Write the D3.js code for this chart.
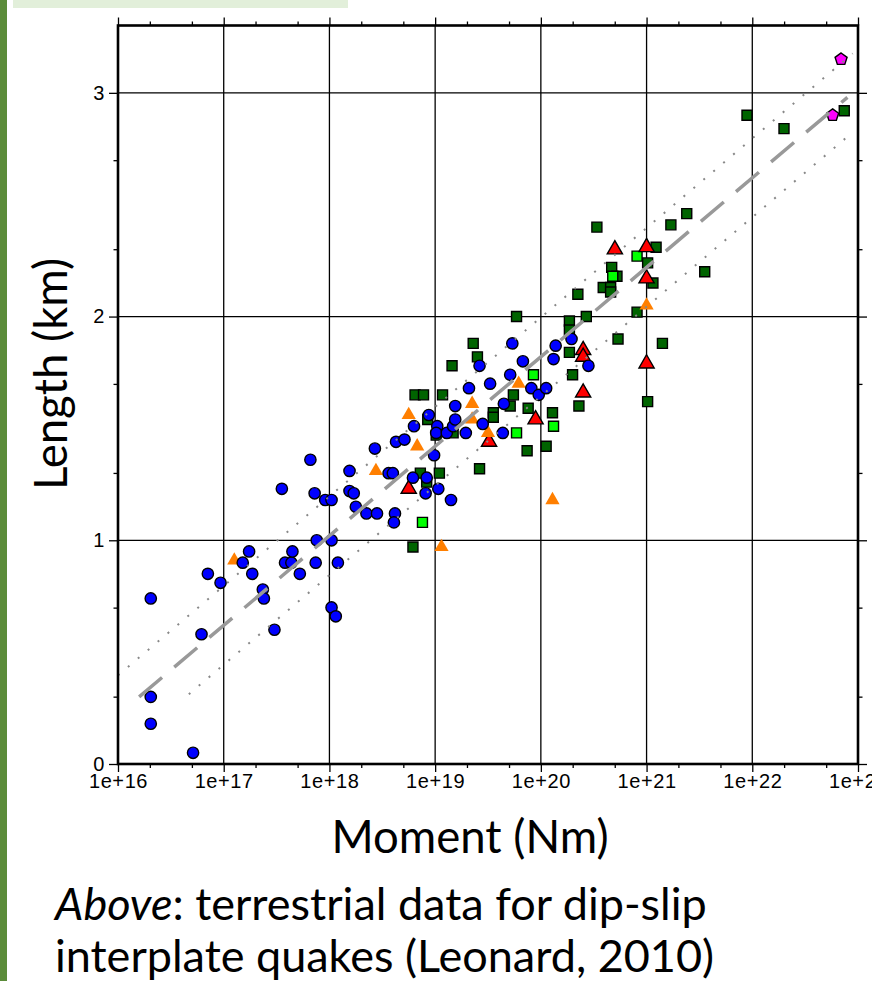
<!DOCTYPE html>
<html>
<head>
<meta charset="utf-8">
<script src="https://cdn.jsdelivr.net/npm/d3@7/dist/d3.min.js"></script>
<style>
  body { margin: 0; background: #fff; }
  .tick text { font-family: "Liberation Sans", Arial, sans-serif; font-size: 20px; letter-spacing: 0.6px; fill: #000; }
  .tick line { stroke: #000; stroke-width: 1.3; }
  .title { font-family: Lato, "Open Sans", sans-serif; fill: #000; }
</style>
</head>
<body>
<svg id="chart" width="872" height="981"></svg>
<script>
// every point is [log10 moment (Nm), log10 length (km)]
var blueCircles = [
  [16.31,0.74],[16.31,0.30],[16.31,0.18],[16.71,0.05],[16.79,0.58],[16.85,0.85],[16.97,0.81],
  [17.18,0.90],[17.24,0.95],[17.27,0.85],[17.37,0.78],[17.38,0.74],[17.48,0.60],[17.55,1.23],
  [17.58,0.90],[17.64,0.90],[17.65,0.95],[17.72,0.85],[17.82,1.36],[17.86,1.21],[17.87,0.90],
  [17.88,1.00],[17.96,1.18],[18.02,1.18],[18.02,1.00],[18.02,0.70],[18.06,0.66],[18.08,0.90],
  [18.19,1.22],[18.23,1.21],[18.19,1.31],[18.25,1.15],[18.35,1.12],[18.45,1.12],[18.43,1.41],
  [18.56,1.30],[18.60,1.30],[18.62,1.12],[18.61,1.08],[18.63,1.44],[18.71,1.45],[18.79,1.28],
  [18.80,1.51],[18.92,1.28],[18.91,1.21],[18.94,1.56],[18.99,1.38],[19.02,1.51],[19.01,1.48],
  [19.03,1.23],[19.11,1.48],[19.15,1.18],[19.17,1.51],[19.19,1.54],[19.19,1.60],[19.29,1.48],
  [19.32,1.68],[19.42,1.78],[19.45,1.52],[19.52,1.70],[19.64,1.48],[19.65,1.61],[19.71,1.74],
  [19.73,1.88],[19.83,1.80],[19.91,1.68],[19.98,1.65],[20.05,1.68],[20.12,1.81],[20.14,1.87],
  [20.29,1.90],[20.45,1.78]
];
var darkGreenSquares = [
  [18.79,0.97],[18.81,1.65],[18.89,1.65],[19.07,1.65],[18.93,1.54],[19.01,1.47],[19.17,1.48],
  [18.86,1.30],[19.04,1.30],[18.92,1.26],[19.16,1.78],[19.36,1.88],[19.40,1.82],[19.42,1.32],
  [19.55,1.57],[19.55,1.55],[19.71,1.60],[19.74,1.65],[19.77,2.00],[19.87,1.40],[19.88,1.59],
  [20.05,1.42],[20.11,1.57],[20.27,1.98],[20.27,1.94],[20.27,1.84],[20.30,1.74],[20.35,2.10],
  [20.36,1.60],[20.43,2.00],[20.53,2.40],[20.59,2.13],[20.66,2.13],[20.67,2.22],[20.66,2.11],
  [20.72,2.18],[20.73,1.90],[20.91,2.02],[21.01,2.24],[21.01,1.62],[21.06,2.15],[21.09,2.31],
  [21.15,1.88],[21.23,2.41],[21.38,2.46],[21.55,2.20],[21.95,2.90],[22.30,2.84],[22.87,2.92]
];
var lightGreenSquares = [
  [18.88,1.08],[19.77,1.48],[19.93,1.74],[20.12,1.51],[20.68,2.18],[20.91,2.27]
];
var redTriangles = [
  [18.75,1.23],[19.51,1.44],[19.95,1.54],[20.40,1.85],[20.40,1.82],[20.40,1.66],
  [20.70,2.30],[21.00,2.31],[21.00,2.17],[21.00,1.79]
];
var orangeTriangles = [
  [17.10,0.91],[18.44,1.31],[18.75,1.56],[18.83,1.42],[19.06,0.97],[19.35,1.61],
  [19.35,1.54],[19.50,1.48],[19.79,1.70],[20.11,1.18],[21.00,2.05]
];
var magentaPentagons = [[22.84,3.15],[22.76,2.90]];

// scaling relation log L = a + b log M, with the x1.5 band
var fitA = -6.18, fitB = 0.4, bandOffset = Math.log10(1.5);
var fitLines = [
  {kind: "fit",   from: 16.20, to: 22.90, offset: 0},
  {kind: "band",  from: 16.00, to: 22.95, offset: bandOffset},
  {kind: "band",  from: 16.67, to: 22.95, offset: -bandOffset}
];

var xMajor = d3.range(16, 24);
var yMajor = [0, 1, 2, 3];
var xTitle = "Moment (Nm)", yTitle = "Length (km)";

var svg = d3.select("#chart");
var pLeft = 118, pRight = 858, pTop = 25.5, pBottom = 764;

var x = d3.scaleLinear().domain([16, 23]).range([pLeft, pRight]);
var y = d3.scaleLinear().domain([0, Math.log10(2000)]).range([pBottom, pTop]);

// page decoration
svg.append("rect").attr("x", 0).attr("y", 0).attr("width", 7).attr("height", 981).attr("fill", "#5b8c3a");
svg.append("rect").attr("x", 13).attr("y", 0).attr("width", 335).attr("height", 8).attr("fill", "#e2efda");

var minorOf = function(majors){
  var out = [];
  majors.slice(0, -1).forEach(function(d){ out.push(d + Math.log10(2), d + Math.log10(5)); });
  return out;
};
var xMinor = minorOf(xMajor), yMinor = minorOf(yMajor);

// grid
var grid = svg.append("g");
grid.selectAll("line.gx").data(xMajor.slice(1, -1)).enter().append("line")
  .attr("x1", x).attr("x2", x).attr("y1", pTop).attr("y2", pBottom)
  .attr("stroke", "#000").attr("stroke-width", 1.3);
grid.selectAll("line.gy").data(yMajor.slice(1)).enter().append("line")
  .attr("y1", y).attr("y2", y).attr("x1", pLeft).attr("x2", pRight)
  .attr("stroke", "#000").attr("stroke-width", 1.3);

function ticks(axis, pos, values, size, fmt){
  var g = svg.append("g").attr("transform", pos)
    .call(axis.tickValues(values).tickSize(size).tickSizeOuter(0).tickFormat(fmt || function(){ return ""; }));
  g.select(".domain").remove();
  return g;
}
var xfmt = function(d){ return "1e+" + d; };
ticks(d3.axisBottom(x).tickPadding(2), "translate(0," + pBottom + ")", xMajor, 8, xfmt);
ticks(d3.axisBottom(x), "translate(0," + pBottom + ")", xMinor, 4);
ticks(d3.axisTop(x), "translate(0," + pTop + ")", xMajor, 8);
ticks(d3.axisTop(x), "translate(0," + pTop + ")", xMinor, 4);
ticks(d3.axisLeft(y).tickPadding(4), "translate(" + pLeft + ",0)", yMajor, 9, d3.format("d"));
ticks(d3.axisLeft(y), "translate(" + pLeft + ",0)", yMinor, 4.5);
ticks(d3.axisRight(y), "translate(" + pRight + ",0)", yMajor, 9);
ticks(d3.axisRight(y), "translate(" + pRight + ",0)", yMinor, 4.5);

// markers
var symbolPentagon = {
  draw: function(context, size){
    var r = Math.sqrt(size / (2.5 * Math.sin(2 * Math.PI / 5)));
    for (var i = 0; i < 5; i++){
      var a = -Math.PI / 2 + i * 2 * Math.PI / 5;
      if (i === 0) context.moveTo(r * Math.cos(a), r * Math.sin(a));
      else context.lineTo(r * Math.cos(a), r * Math.sin(a));
    }
    context.closePath();
  }
};
var series = [
  {data: magentaPentagons,  type: symbolPentagon,      size: 95,  fill: "#ff00ff", stroke: "#000"},
  {data: darkGreenSquares,  type: d3.symbolSquare,     size: 100, fill: "#006400", stroke: "#000"},
  {data: lightGreenSquares, type: d3.symbolSquare,     size: 100, fill: "#00ff00", stroke: "#000"},
  {data: redTriangles,      type: d3.symbolTriangle,   size: 100, fill: "#ff0000", stroke: "#000"},
  {data: orangeTriangles,   type: d3.symbolTriangle,   size: 88,  fill: "#ff7f00", stroke: "none"},
  {data: blueCircles,       type: d3.symbolCircle,     size: 100, fill: "#0000ff", stroke: "#000"}
];
var plot = svg.append("g");
series.forEach(function(s){
  plot.append("g").selectAll("path").data(s.data).enter().append("path")
    .attr("transform", function(d){ return "translate(" + x(d[0]) + "," + y(d[1]) + ")"; })
    .attr("d", d3.symbol().type(s.type).size(s.size))
    .attr("fill", s.fill).attr("stroke", s.stroke).attr("stroke-width", 1.4);
});

// fit line and band
var line = d3.line().x(function(d){ return x(d[0]); }).y(function(d){ return y(d[1]); });
fitLines.forEach(function(l){
  var pts = [l.from, l.to].map(function(m){ return [m, fitA + fitB * m + l.offset]; });
  svg.append("path").attr("d", line(pts)).attr("fill", "none")
    .attr("stroke", l.kind === "fit" ? "#999" : "#888")
    .attr("stroke-width", l.kind === "fit" ? 3.5 : 2)
    .attr("stroke-dasharray", l.kind === "fit" ? "30 16" : "2 11");
});

// frame
svg.append("rect").attr("x", pLeft).attr("y", pTop).attr("width", pRight - pLeft).attr("height", pBottom - pTop)
  .attr("fill", "none").attr("stroke", "#000").attr("stroke-width", 2.6);

// titles
svg.append("text").attr("class", "title").attr("transform", "translate(67,374) rotate(-90)")
  .attr("text-anchor", "middle").attr("font-size", 45.5).text(yTitle);
svg.append("text").attr("class", "title").attr("x", 470).attr("y", 853)
  .attr("text-anchor", "middle").attr("font-size", 45.5).text(xTitle);
var cap = svg.append("text").attr("class", "title").attr("font-size", 45);
var l1 = cap.append("tspan").attr("x", 55).attr("y", 920);
l1.append("tspan").attr("font-style", "italic").text("Above");
l1.append("tspan").text(": terrestrial data for dip-slip");
cap.append("tspan").attr("x", 55).attr("y", 972).text("interplate quakes (Leonard, 2010)");
</script>
</body>
</html>
